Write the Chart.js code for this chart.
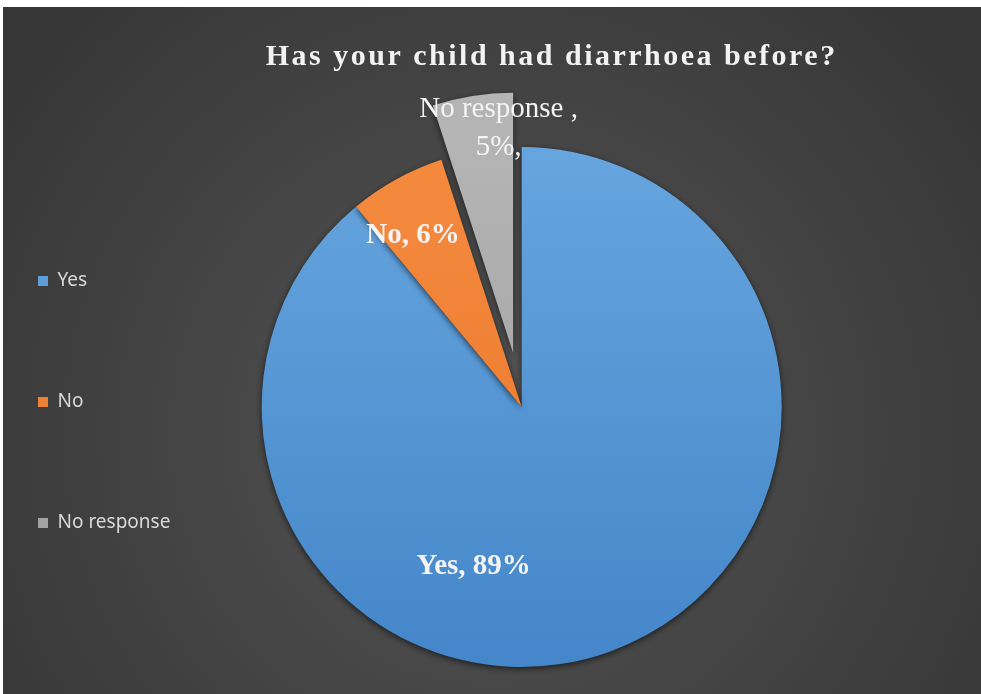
<!DOCTYPE html>
<html>
<head>
<meta charset="utf-8">
<script src="https://cdn.jsdelivr.net/npm/chart.js@4.4.1/dist/chart.umd.min.js"></script>
<style>
  html, body { margin: 0; padding: 0; background: #fff; }
  #wrap { position: absolute; left: 3px; top: 7px; width: 978px; height: 687px; }
</style>
</head>
<body>
<div id="wrap"><canvas id="pie"></canvas></div>
<script>
const chartTitle = 'Has your child had diarrhoea before?';
const categories = ['Yes', 'No', 'No response'];
const percentages = [89, 6, 5];

// top / bottom shade of each slice
const sliceShades = [
    ['#66a5de', '#4486c9'],
    ['#f58a3e', '#e8762a'],
    ['#b4b4b4', '#9c9c9c']
];
const pieRadius = 260;

// slice label text: "No response" wraps onto two lines
function labelLines(i) {
    if (i === 2) return [categories[i] + ' ,', percentages[i] + '%,'];
    return [categories[i] + ', ' + percentages[i] + '%'];
}

function sliceFill(c) {
    const i = c.dataIndex === undefined ? 0 : c.dataIndex;
    const { ctx, chartArea } = c.chart;
    const [top, bottom] = sliceShades[i];
    if (!chartArea) return top;
    const cy = (chartArea.top + chartArea.bottom) / 2;
    const g = ctx.createLinearGradient(0, cy - pieRadius, 0, cy + pieRadius);
    g.addColorStop(0, top);
    g.addColorStop(1, bottom);
    return g;
}

const backdrop = {
    id: 'backdrop',
    beforeDraw(chart) {
        const { ctx, width, height } = chart;
        const g = ctx.createRadialGradient(width / 2, height * 0.62, 0, width / 2, height * 0.62, width * 0.62);
        g.addColorStop(0, '#545454');
        g.addColorStop(1, '#363636');
        ctx.save();
        ctx.fillStyle = g;
        ctx.fillRect(0, 0, width, height);
        ctx.restore();
    }
};

// pull slices out along their middle angle
const explode = {
    id: 'explode',
    afterDatasetUpdate(chart, { meta }, opts) {
        meta.data.forEach((arc, i) => {
            const d = opts.distances[i] || 0;
            if (!d) return;
            const mid = (arc.startAngle + arc.endAngle) / 2;
            arc.x += d * Math.cos(mid);
            arc.y += d * Math.sin(mid);
        });
    }
};

const pieShadow = {
    id: 'pieShadow',
    beforeDatasetsDraw(chart) {
        const ctx = chart.ctx;
        ctx.save();
        ctx.shadowColor = 'rgba(0, 0, 0, 0.6)';
        ctx.shadowBlur = 6;
        ctx.shadowOffsetY = 2;
    },
    afterDatasetsDraw(chart) {
        chart.ctx.restore();
    }
};

const sliceLabels = {
    id: 'sliceLabels',
    afterDatasetsDraw(chart, args, opts) {
        const ctx = chart.ctx;
        chart.getDatasetMeta(0).data.forEach((arc, i) => {
            const p = opts.placement[i];
            const a = (arc.startAngle + arc.endAngle) / 2 + p.turn * Math.PI / 180;
            const r = arc.outerRadius * p.dist;
            const x = arc.x + r * Math.cos(a);
            const y = arc.y + r * Math.sin(a);
            const lines = labelLines(i);
            ctx.save();
            ctx.font = (p.bold ? 'bold ' : '') + opts.size + "px 'Liberation Serif', serif";
            ctx.fillStyle = opts.color;
            ctx.textAlign = 'center';
            ctx.textBaseline = 'middle';
            lines.forEach((t, k) => {
                ctx.fillText(t, x, y + (k - (lines.length - 1) / 2) * opts.lineHeight);
            });
            ctx.restore();
        });
    }
};

const spacedTitle = {
    id: 'spacedTitle',
    afterDraw(chart, args, opts) {
        const { ctx, chartArea } = chart;
        ctx.save();
        ctx.font = "bold 30px 'Liberation Serif', serif";
        ctx.letterSpacing = '2.5px';
        ctx.fillStyle = '#f2f2f2';
        ctx.textAlign = 'center';
        ctx.textBaseline = 'middle';
        ctx.fillText(chartTitle, (chartArea.left + chartArea.right) / 2 + opts.shiftX, opts.y);
        ctx.restore();
    }
};

new Chart(document.getElementById('pie'), {
    type: 'pie',
    data: {
        labels: categories,
        datasets: [{
            data: percentages,
            backgroundColor: sliceFill,
            borderWidth: 0,
            radius: pieRadius,
            clip: false
        }]
    },
    options: {
        responsive: true,
        maintainAspectRatio: false,
        animation: false,
        events: [],
        layout: {
            padding: { left: -67, right: 118, top: 162.5, bottom: 49.5 }
        },
        plugins: {
            legend: {
                position: 'left',
                align: 'start',
                labels: {
                    boxWidth: 10,
                    boxHeight: 10,
                    padding: 102,
                    color: '#d9d9d9',
                    font: { family: "'Noto Sans', sans-serif", size: 19 }
                }
            },
            title: { display: false },
            tooltip: { enabled: false },
            explode: { distances: [0, 0, 55] },
            sliceLabels: {
                size: 29,
                lineHeight: 38,
                color: '#f4f4f4',
                placement: [
                    { turn: 36.6, dist: 0.64, bold: true },
                    { turn: -3.6, dist: 0.78, bold: true },
                    { turn: 5.3, dist: 0.865, bold: false }
                ]
            },
            spacedTitle: { shiftX: 30, y: 50 }
        }
    },
    plugins: [backdrop, explode, pieShadow, sliceLabels, spacedTitle]
});
</script>
</body>
</html>
